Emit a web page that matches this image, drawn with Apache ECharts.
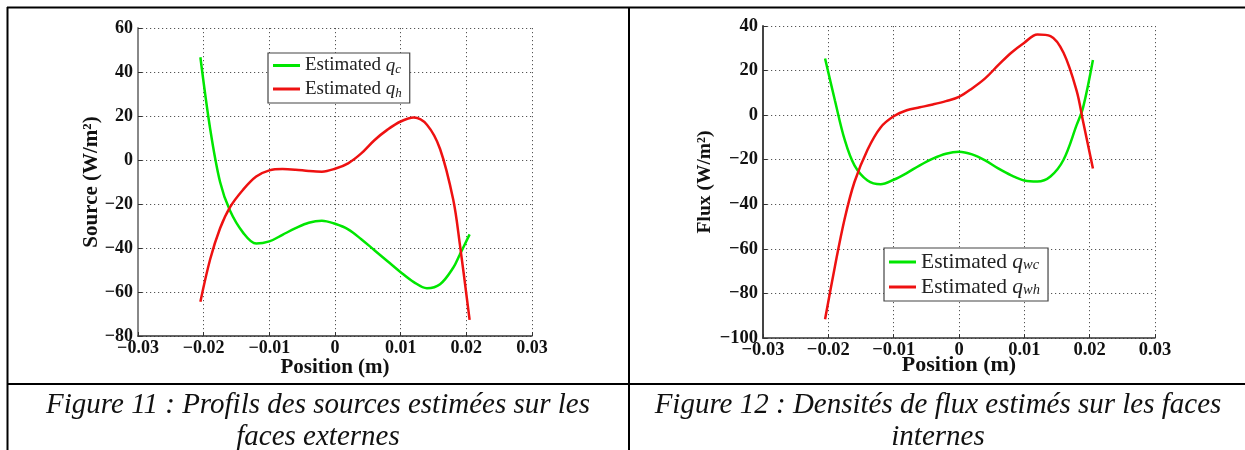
<!DOCTYPE html>
<html>
<head>
<meta charset="utf-8">
<script src="https://cdn.jsdelivr.net/npm/echarts@6/dist/echarts.min.js"></script>
<style>
  html, body { margin: 0; padding: 0; background: #fff; }
  #main { width: 1245px; height: 450px; }
</style>
</head>
<body>
<div id="main"></div>
<script>
// positions along the face (m)
const positions = [-0.0205, -0.019, -0.0175, -0.016, -0.014, -0.012, -0.01, -0.008, -0.006, -0.004, -0.002, 0,
  0.002, 0.004, 0.006, 0.008, 0.01, 0.012, 0.014, 0.016, 0.018, 0.019, 0.0205];
// figure 11 : sources (W/m2)
const qc = [46.7, 14, -10, -23, -33, -38, -37, -34, -31, -28.5, -27.6, -29,
  -31.5, -36, -41, -46, -51, -55.5, -58.3, -56.5, -49, -43, -33.8];
const qh = [-64.4, -45, -31, -21.5, -13.5, -7.5, -4.7, -4.1, -4.4, -5, -5.3, -4,
  -1.5, 3, 9, 13.8, 17.5, 19.3, 16, 5, -18, -38, -72.7];
// figure 12 : flux (W/m2)
const qwc = [25.4, 6.7, -11, -22.5, -29.3, -31, -29, -26, -22.5, -19.5, -17.3, -16.4,
  -17.6, -20.3, -23.9, -27, -29.3, -29.8, -27.5, -20, -4.5, 3.5, 24.7];
const qwh = [-91.6, -68, -46.5, -30, -15.5, -5.5, -0.5, 2.2, 3.5, 4.8, 6.3, 8.2,
  12, 16.5, 22.4, 28, 32.5, 36.2, 35.5, 28, 11, -3, -23.9];

const names1 = ['Estimated q_c', 'Estimated q_h'];
const names2 = ['Estimated q_wc', 'Estimated q_wh'];
const captions1 = ['Figure 11 : Profils des sources estimées sur les', 'faces externes'];
const captions2 = ['Figure 12 : Densités de flux estimés sur les faces', 'internes'];

const serif = '"Liberation Serif", "DejaVu Serif", serif';
const green = '#00e600';
const red = '#ee1111';

const pairs = (xs, ys) => xs.map((x, i) => [x, ys[i]]);
const minus = s => s.replace('-', '\u2212');
const fmtX = v => Math.abs(v) < 1e-9 ? '0' : minus((Math.round(v * 100) / 100).toFixed(2));
const fmtY = v => minus(String(Math.round(v)));

const legendFmt = name => {
  const [a, sub] = name.split('_');
  return '{t|' + a.replace(' q', ' ') + '}{q|q}{s|' + sub + '}';
};

const makeX = (idx, size, nameSize, nameGap) => ({
  type: 'value', gridIndex: idx, min: -0.03, max: 0.03, interval: 0.01,
  name: 'Position (m)', nameLocation: 'middle', nameGap: nameGap, nameMoveOverlap: false,
  nameTextStyle: { fontFamily: serif, fontWeight: 'bold', fontSize: nameSize, color: '#111' },
  axisLine: { onZero: false, lineStyle: { color: '#333', width: 1.5 } },
  axisTick: { inside: true, length: 4, lineStyle: { color: '#333' } },
  axisLabel: { formatter: fmtX, margin: 3, fontFamily: serif, fontWeight: 'bold', fontSize: size, color: '#111' },
  splitLine: { show: true, lineStyle: { color: '#555', width: 1, type: [1.2, 2.8] } }
});
const makeY = (idx, min, max, title, size, nameSize, nameGap, axisColor) => ({
  type: 'value', gridIndex: idx, min: min, max: max, interval: 20,
  name: title, nameLocation: 'middle', nameGap: nameGap, nameRotate: 90, nameMoveOverlap: false,
  nameTextStyle: { fontFamily: serif, fontWeight: 'bold', fontSize: nameSize, color: '#111' },
  axisLine: { show: true, onZero: false, lineStyle: { color: axisColor, width: 2 } },
  axisTick: { show: true, inside: true, length: 4, lineStyle: { color: '#333' } },
  axisLabel: { formatter: fmtY, margin: 5, fontFamily: serif, fontWeight: 'bold', fontSize: size, color: '#111' },
  splitLine: { show: true, lineStyle: { color: '#555', width: 1, type: [1.2, 2.8] } }
});
const makeLegend = (data, left, top, fs, subFs) => ({
  data: data, left: left, top: top, orient: 'vertical',
  icon: 'rect', itemWidth: 27, itemHeight: 3, itemGap: 3,
  padding: [3, 8, 3, 5],
  borderColor: '#444', borderWidth: 1.2, backgroundColor: '#fff',
  formatter: legendFmt,
  textStyle: {
    color: '#222',
    rich: {
      t: { fontFamily: serif, fontSize: fs, color: '#222', lineHeight: 22 },
      q: { fontFamily: serif, fontStyle: 'italic', fontSize: fs, color: '#222', lineHeight: 22 },
      s: { fontFamily: serif, fontStyle: 'italic', fontSize: subFs, color: '#222', verticalAlign: 'bottom', lineHeight: 16 }
    }
  }
});
const makeLine = (name, data, idx, color) => ({
  name: name, type: 'line', xAxisIndex: idx, yAxisIndex: idx,
  data: data, smooth: 0.35, showSymbol: false, symbol: 'none',
  itemStyle: { color: color },
  lineStyle: { color: color, width: 2.5 }
});
const caption = (text, x, y) => ({
  type: 'text', x: x, y: y,
  style: { text: text, font: 'italic 29px ' + serif, fill: '#111', align: 'center', verticalAlign: 'middle' }
});
const border = (x1, y1, x2, y2) => ({
  type: 'line', shape: { x1: x1, y1: y1, x2: x2, y2: y2 },
  style: { stroke: '#000', lineWidth: 2 }
});

const chart = echarts.init(document.getElementById('main'));
chart.setOption({
  animation: false,
  backgroundColor: '#fff',
  grid: [
    { left: 138, top: 28, width: 394, height: 308 },
    { left: 763, top: 26, width: 392, height: 312 }
  ],
  xAxis: [makeX(0, 18, 21, 21), makeX(1, 18.5, 22, 16)],
  yAxis: [
    makeY(0, -80, 60, 'Source (W/m\u00b2)', 18, 21, 36, '#888'),
    makeY(1, -100, 40, 'Flux (W/m\u00b2)', 18.5, 19.5, 48, '#444')
  ],
  legend: [makeLegend(names1, 268, 53, 19, 13), makeLegend(names2, 884, 248, 21.5, 14.5)],
  series: [
    makeLine(names1[0], pairs(positions, qc), 0, green),
    makeLine(names1[1], pairs(positions, qh), 0, red),
    makeLine(names2[0], pairs(positions, qwc), 1, green),
    makeLine(names2[1], pairs(positions, qwh), 1, red)
  ],
  graphic: [
    border(7, 7.5, 1245, 7.5),
    border(7.5, 7, 7.5, 450),
    border(629, 7, 629, 450),
    border(7, 384, 1245, 384),
    caption(captions1[0], 318, 405),
    caption(captions1[1], 318, 437),
    caption(captions2[0], 938, 405),
    caption(captions2[1], 938, 437)
  ]
});
</script>
</body>
</html>
